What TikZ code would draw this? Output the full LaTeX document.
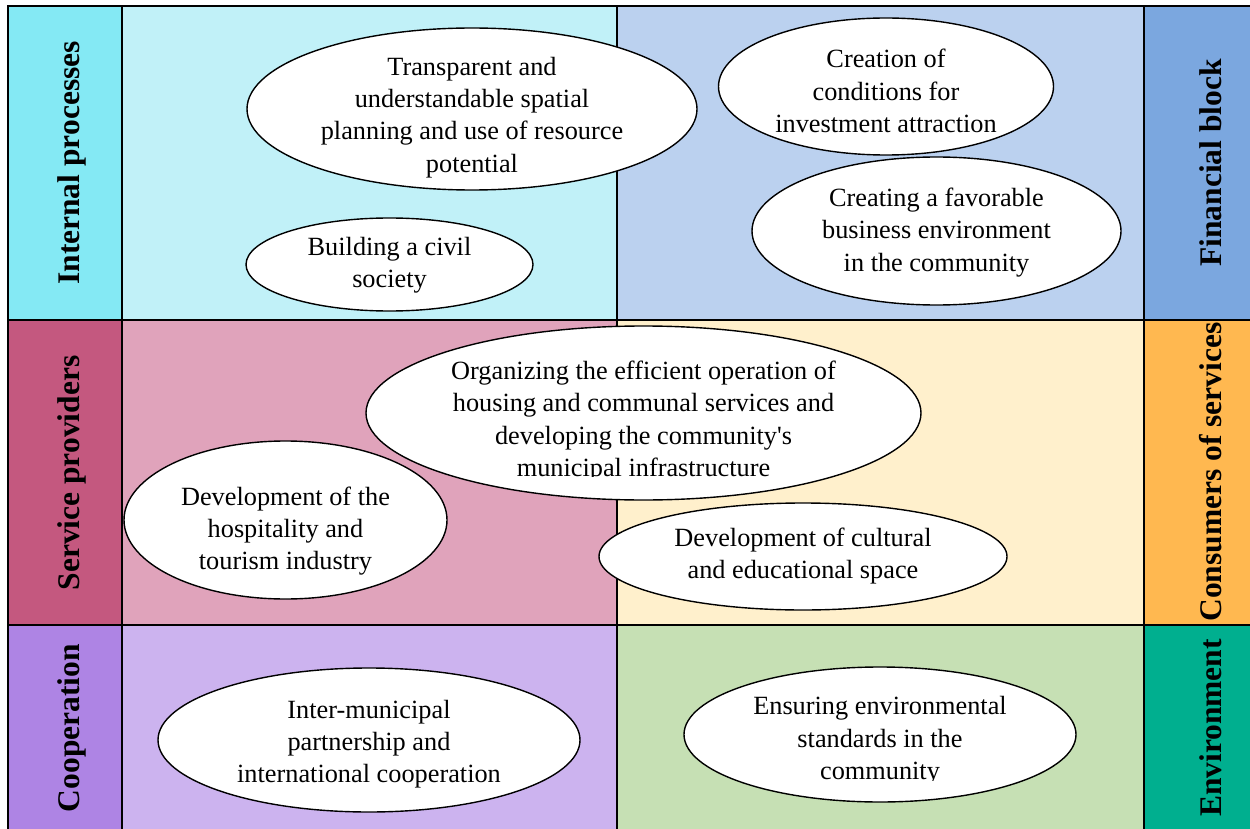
\documentclass[tikz,border=0pt]{standalone}
\usepackage{fontspec}
\setmainfont{Liberation Serif}
\usetikzlibrary{shapes.geometric}

\definecolor{ipDark}{HTML}{84E9F4}
\definecolor{ipLight}{HTML}{C1F1F8}
\definecolor{spDark}{HTML}{C4587F}
\definecolor{spLight}{HTML}{E0A3BB}
\definecolor{coDark}{HTML}{AE84E4}
\definecolor{coLight}{HTML}{CCB3EF}
\definecolor{fbDark}{HTML}{7BA7DF}
\definecolor{fbLight}{HTML}{BBD1EF}
\definecolor{csDark}{HTML}{FFB850}
\definecolor{csLight}{HTML}{FFF0CC}
\definecolor{enDark}{HTML}{00AF8F}
\definecolor{enLight}{HTML}{C6E0B4}

\tikzset{
  grid/.style={line width=2pt, black},
  goal/.style={ellipse, draw=black, line width=1.4pt, fill=white, inner sep=0pt},
  goaltext/.style={align=center, inner sep=0pt, font=\fontsize{26.3}{32.3}\selectfont},
  axis/.style={rotate=90, inner sep=0pt, font=\bfseries\fontsize{31.5}{34}\selectfont},
}

\begin{document}
\begin{tikzpicture}[x=1pt, y=-1pt]
\useasboundingbox (0,0) rectangle (1250,829);
\begin{scope}
\clip (0,0) rectangle (1250,829);
% cell fills
\fill[ipDark]  (8,6)    rectangle (122,320);
\fill[ipLight] (122,6)  rectangle (617,320);
\fill[fbLight] (617,6)  rectangle (1144,320);
\fill[fbDark]  (1144,6) rectangle (1260,320);
\fill[spDark]  (8,320)    rectangle (122,625);
\fill[spLight] (122,320)  rectangle (617,625);
\fill[csLight] (617,320)  rectangle (1144,625);
\fill[csDark]  (1144,320) rectangle (1260,625);
\fill[coDark]  (8,625)    rectangle (122,840);
\fill[coLight] (122,625)  rectangle (617,840);
\fill[enLight] (617,625)  rectangle (1144,840);
\fill[enDark]  (1144,625) rectangle (1260,840);
% grid lines
\draw[grid] (1260,6) -- (8,6) -- (8,840);
\draw[grid] (122,6) -- (122,840);
\draw[grid] (617,6) -- (617,840);
\draw[grid] (1144,6) -- (1144,840);
\draw[grid] (8,320) -- (1260,320);
\draw[grid] (8,625) -- (1260,625);
\end{scope}

% side labels
\node[axis] (lip) at (72,163) {Internal processes};
\node[axis] (lsp) at (72,473) {Service providers};
\node[axis] (lco) at (72,728) {Cooperation};
\node[axis] (lfb) at (1211,163) {Financial block};
\node[axis] (lcs) at (1211,472) {Consumers of services};
\node[axis] (len) at (1211,728) {Environment};

% goals
\node[goal, minimum width=450pt, minimum height=162pt] (e1) at (472,109) {};
\node[goaltext] (t1) at (472,117.5) {Transparent and\\understandable spatial\\planning and use of resource\\potential};

\node[goal, minimum width=287pt, minimum height=93pt] (e2) at (389.5,264.5) {};
\node[goaltext] (t2) at (389.5,265) {Building a civil\\society};

\node[goal, minimum width=335pt, minimum height=137pt] (e3) at (886,86.5) {};
\node[goaltext] (t3) at (886,91) {Creation of\\conditions for\\investment attraction};

\node[goal, minimum width=369pt, minimum height=148pt] (e4) at (936.5,231) {};
\node[goaltext] (t4) at (936.5,232.5) {Creating a favorable\\business environment\\in the community};

\node[goal, minimum width=555pt, minimum height=174pt] (e5) at (643.5,413) {};
\begin{scope}
\clip (300,320) rectangle (1000,476);
\node[goaltext] (t5) at (643.5,421.5) {Organizing the efficient operation of\\housing and communal services and\\developing the community\textquotesingle s\\municipal infrastructure};
\end{scope}

\node[goal, minimum width=323pt, minimum height=158pt] (e6) at (285.5,520) {};
\node[goaltext] (t6) at (285.5,531) {Development of the\\hospitality and\\tourism industry};

\node[goal, minimum width=408pt, minimum height=107pt] (e7) at (803,556.5) {};
\node[goaltext] (t7) at (803,556) {Development of cultural\\and educational space};

\node[goal, minimum width=422pt, minimum height=144pt] (e8) at (369,740) {};
\node[goaltext] (t8) at (369,744) {Inter-municipal\\partnership and\\international cooperation};

\node[goal, minimum width=392pt, minimum height=135pt] (e9) at (880,734.5) {};
\begin{scope}
\clip (650,650) rectangle (1100,780);
\node[goaltext] (t9) at (880,741) {Ensuring environmental\\standards in the\\community};
\end{scope}
\end{tikzpicture}
\end{document}
